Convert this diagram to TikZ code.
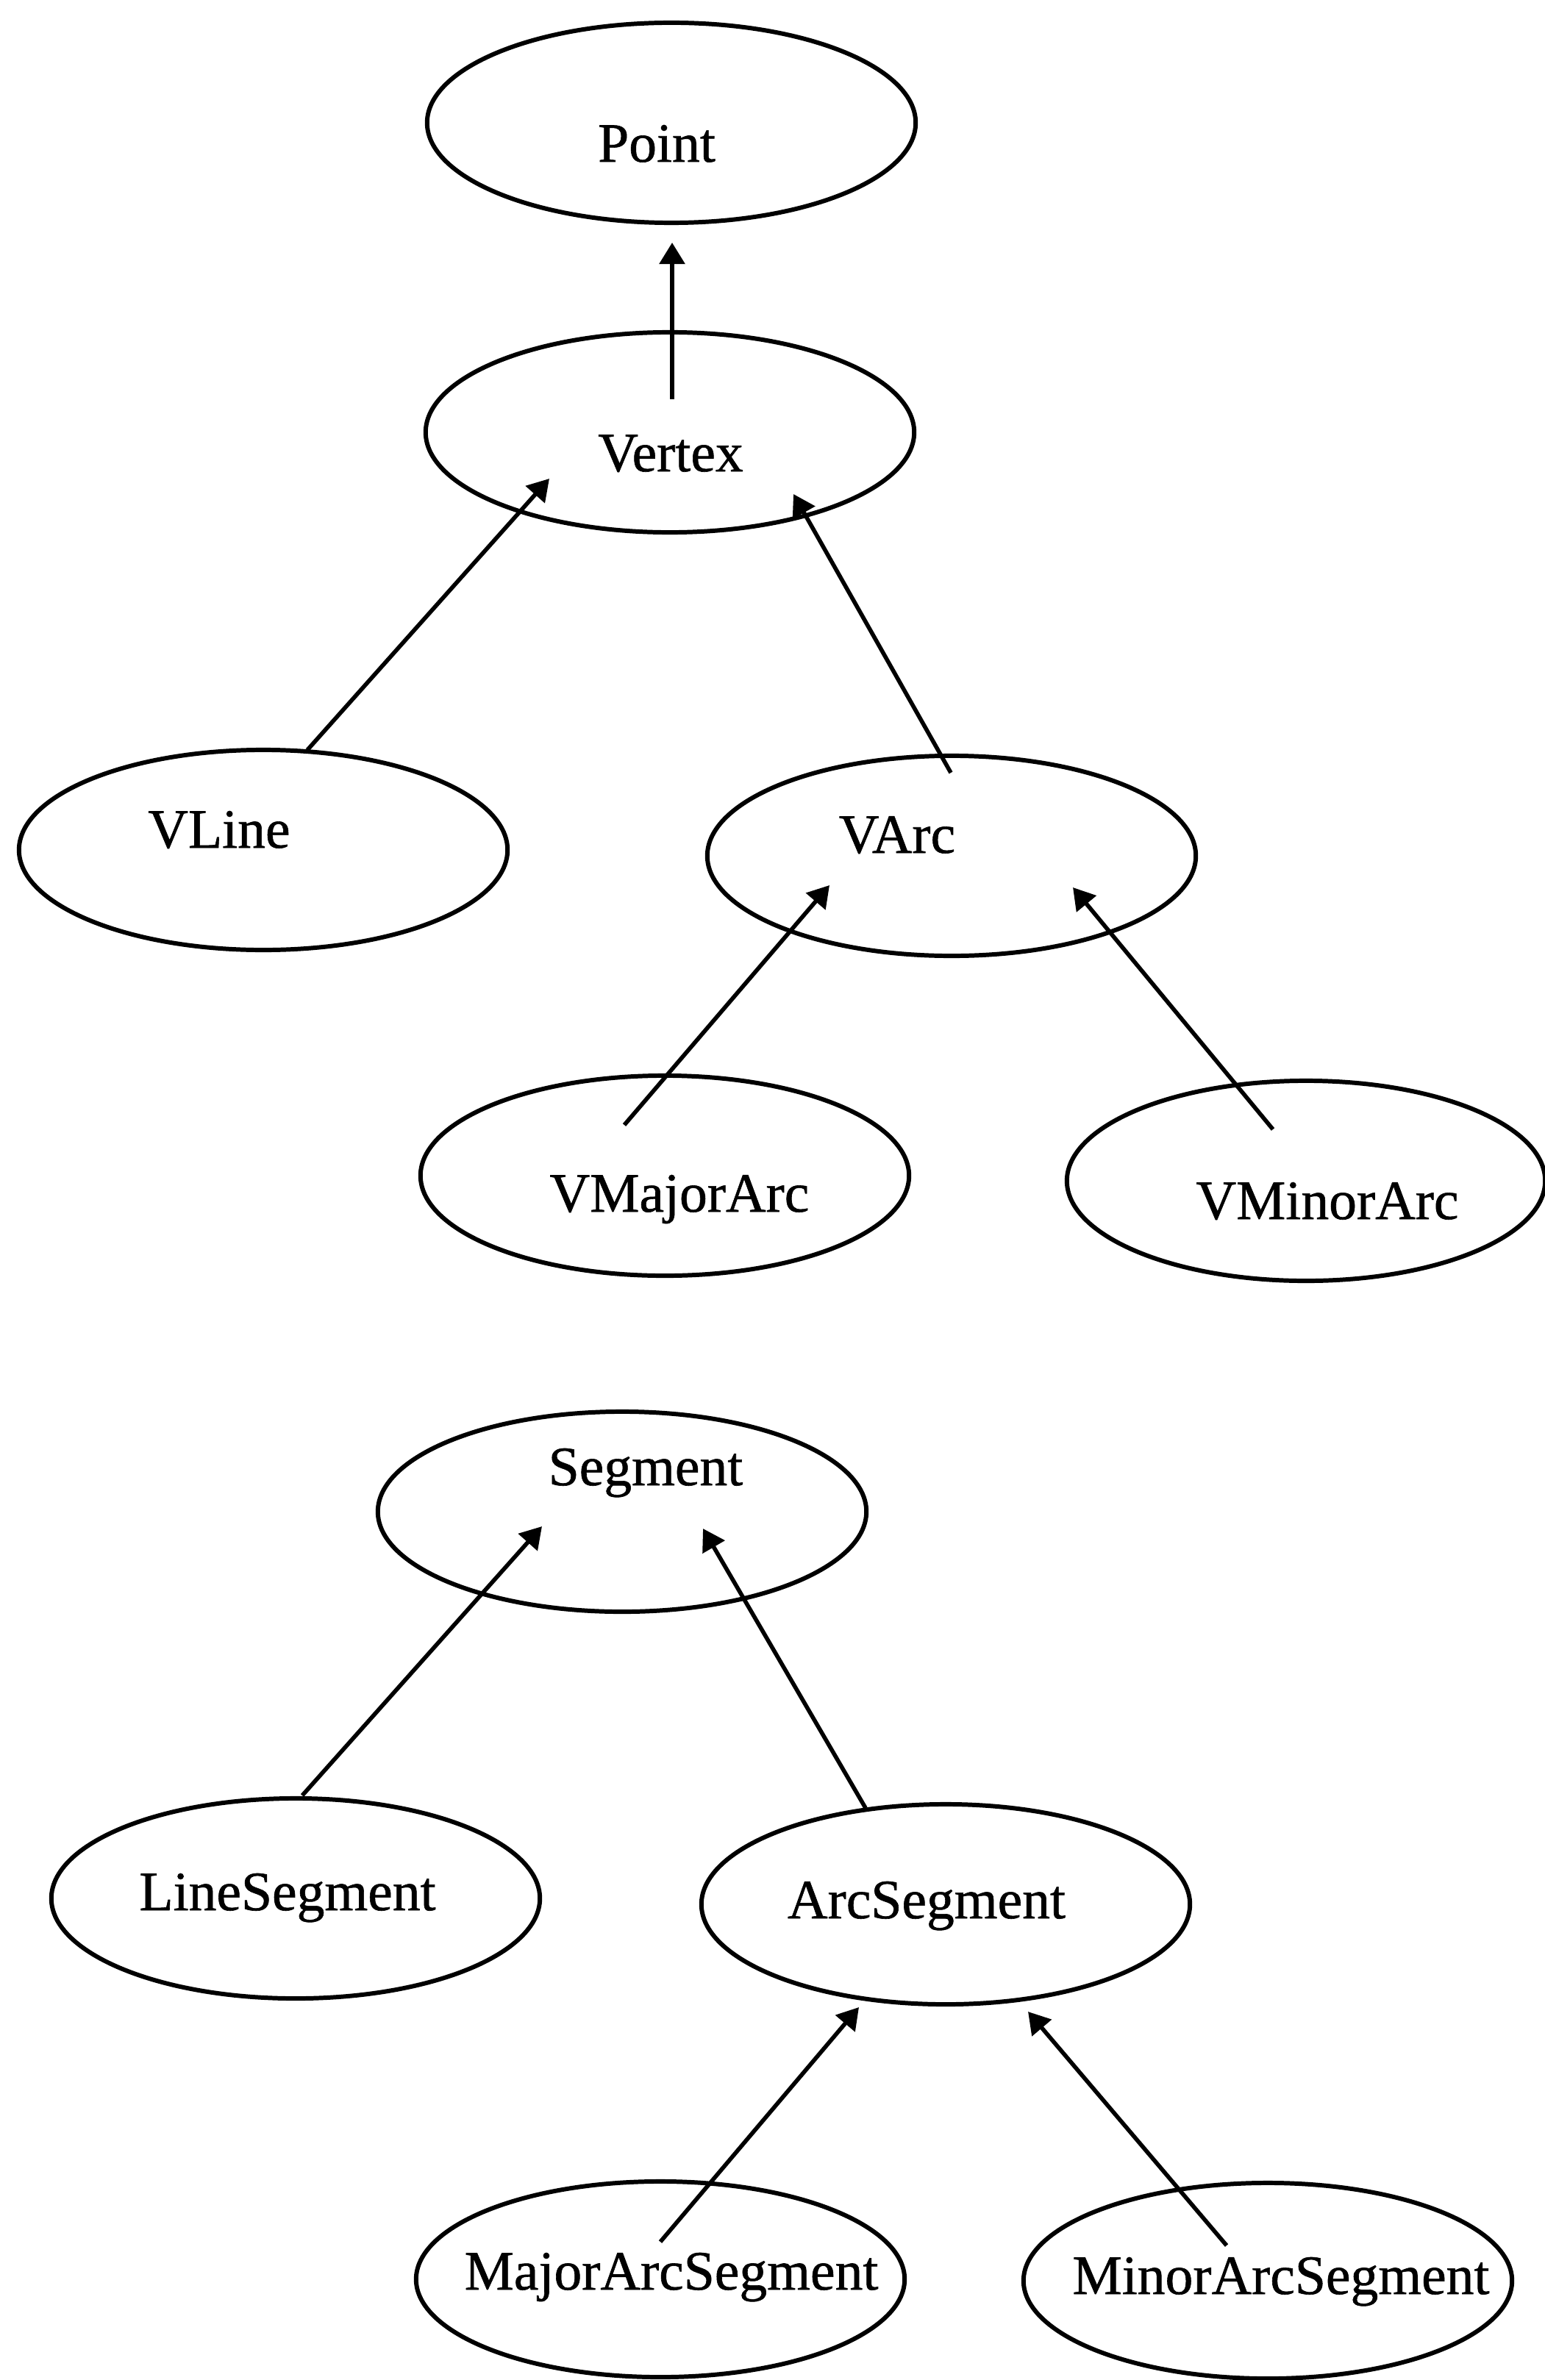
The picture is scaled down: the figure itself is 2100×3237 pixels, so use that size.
\documentclass[tikz,border=0pt]{standalone}
\usepackage{fontspec}
\setmainfont{Liberation Serif}[FakeBold=0.8]
\usetikzlibrary{arrows.meta,shapes.geometric}
\begin{document}
\begin{tikzpicture}[x=0.01cm,y=-0.01cm,
  cls/.style={draw, ellipse, line width=1.7pt, minimum width=6.64cm, minimum height=2.72cm, inner sep=0pt},
  lbl/.style={anchor=base, inner sep=0pt, font=\fontsize{21.5}{26}\selectfont},
  inh/.style={-{Triangle[length=0.29cm,width=0.34cm]}, line width=1.6pt}]
\useasboundingbox (0,0) rectangle (2100,3237);

% class ellipses
\node[cls] (point) at (913,167) {};
\node[cls] (vertex) at (911,588) {};
\node[cls] (vline) at (358,1156) {};
\node[cls] (varc) at (1294,1164) {};
\node[cls] (vmajor) at (904,1599) {};
\node[cls, minimum width=6.5cm] (vminor) at (1776,1606) {};
\node[cls] (segment) at (846,2056) {};
\node[cls] (lineseg) at (402,2582) {};
\node[cls] (arcseg) at (1286,2590) {};
\node[cls, minimum height=2.66cm] (majorseg) at (898,3100) {};
\node[cls, minimum height=2.66cm] (minorseg) at (1724,3102) {};

% labels
\node[lbl] (pointT) at (893,220) {Point};
\node[lbl] (vertexT) at (912,641) {Vertex};
\node[lbl] (vlineT) at (298,1153) {VLine};
\node[lbl] (varcT) at (1220,1160) {VArc};
\node[lbl] (vmajorT) at (924,1648) {VMajorArc};
\node[lbl] (vminorT) at (1805,1658) {VMinorArc};
\node[lbl] (segmentT) at (878,2020) {Segment};
\node[lbl] (linesegT) at (391,2598) {LineSegment};
\node[lbl] (arcsegT) at (1260,2609) {ArcSegment};
\node[lbl] (majorsegT) at (913,3114) {MajorArcSegment};
\node[lbl] (minorsegT) at (1742,3120) {MinorArcSegment};

% connector end points
\coordinate (a1s) at (914,543);  \coordinate (a1e) at (914,330);
\coordinate (a2s) at (418,1020); \coordinate (a2e) at (747,651);
\coordinate (a3s) at (1293,1051);\coordinate (a3e) at (1079,672);
\coordinate (a4s) at (849,1530); \coordinate (a4e) at (1128,1204);
\coordinate (a5s) at (1731,1536);\coordinate (a5e) at (1459,1207);
\coordinate (a6s) at (411,2442); \coordinate (a6e) at (737,2076);
\coordinate (a7s) at (1177,2459);\coordinate (a7e) at (956,2079);
\coordinate (a8s) at (898,3049); \coordinate (a8e) at (1168,2730);
\coordinate (a9s) at (1668,3054);\coordinate (a9e) at (1398,2736);

% inheritance arrows (child -> parent)
\draw[inh] (a1s) -- (a1e);
\draw[inh] (a2s) -- (a2e);
\draw[inh] (a3s) -- (a3e);
\draw[inh] (a4s) -- (a4e);
\draw[inh] (a5s) -- (a5e);
\draw[inh] (a6s) -- (a6e);
\draw[inh] (a7s) -- (a7e);
\draw[inh] (a8s) -- (a8e);
\draw[inh] (a9s) -- (a9e);
\end{tikzpicture}
\end{document}
